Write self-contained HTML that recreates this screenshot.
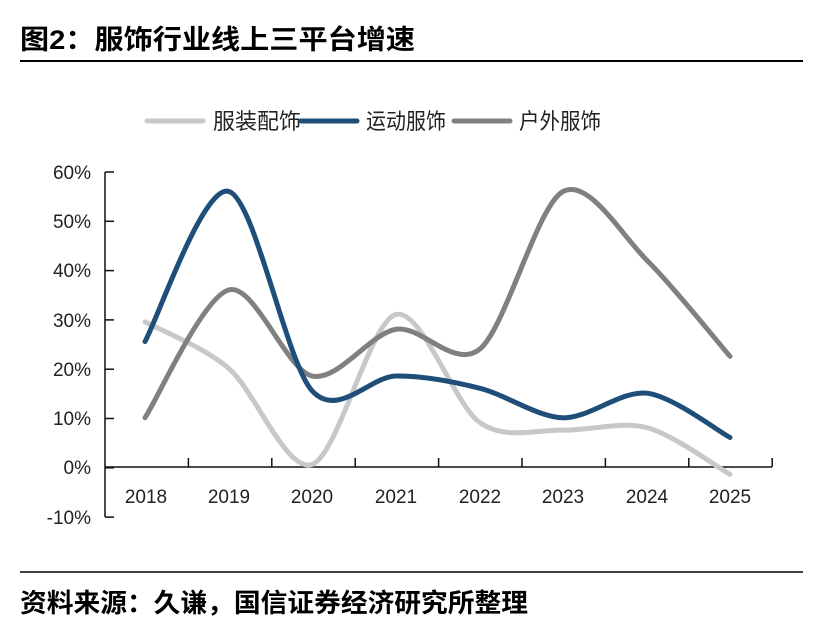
<!DOCTYPE html>
<html><head><meta charset="utf-8"><style>
body{margin:0;width:814px;height:632px;background:#fff;overflow:hidden;font-family:"Liberation Sans","Noto Sans CJK SC",sans-serif;}
</style></head><body>
<svg width="814" height="632" xmlns="http://www.w3.org/2000/svg" font-family="Liberation Sans, Noto Sans CJK SC, sans-serif">
<text x="20" y="49" font-size="27" font-weight="bold" fill="#000" textLength="395" lengthAdjust="spacingAndGlyphs">图2：服饰行业线上三平台增速</text>
<line x1="20" y1="61" x2="803" y2="61" stroke="#000" stroke-width="2"/>
<line x1="20" y1="572" x2="803" y2="572" stroke="#000" stroke-width="1.5"/>
<text x="20" y="612" font-size="26" font-weight="bold" fill="#000" textLength="508" lengthAdjust="spacingAndGlyphs">资料来源：久谦，国信证券经济研究所整理</text>
<g font-size="22" fill="#222">
<line x1="147" y1="121" x2="203" y2="121" stroke="#c8c8c8" stroke-width="5" stroke-linecap="round"/>
<text x="213" y="129" textLength="88" lengthAdjust="spacingAndGlyphs">服装配饰</text>
<line x1="301" y1="121" x2="357" y2="121" stroke="#1f4e79" stroke-width="5" stroke-linecap="round"/>
<text x="366" y="129" textLength="80" lengthAdjust="spacingAndGlyphs">运动服饰</text>
<line x1="454" y1="121" x2="510" y2="121" stroke="#808080" stroke-width="5" stroke-linecap="round"/>
<text x="519" y="129" textLength="82" lengthAdjust="spacingAndGlyphs">户外服饰</text>
</g>
<g font-size="19" fill="#222" text-anchor="end">
<text x="91" y="179">60%</text><text x="91" y="228">50%</text><text x="91" y="277">40%</text>
<text x="91" y="327">30%</text><text x="91" y="376">20%</text><text x="91" y="425">10%</text>
<text x="91" y="474">0%</text><text x="91" y="524">-10%</text>
</g>
<line x1="105" y1="172" x2="105" y2="517" stroke="#111" stroke-width="1.5"/>
<line x1="105" y1="467" x2="772" y2="467" stroke="#111" stroke-width="1.5"/>
<g id="ticks" stroke="#111" stroke-width="1.5"></g>
<g font-size="19" fill="#222" text-anchor="middle">
<text x="146" y="503">2018</text><text x="229" y="503">2019</text><text x="312" y="503">2020</text>
<text x="396" y="503">2021</text><text x="480" y="503">2022</text><text x="563" y="503">2023</text>
<text x="647" y="503">2024</text><text x="730" y="503">2025</text>
</g>
<path id="s1" fill="none" stroke="#c8c8c8" stroke-width="5" stroke-linecap="round"/>
<path id="s3" fill="none" stroke="#808080" stroke-width="5" stroke-linecap="round"/>
<path id="s2" fill="none" stroke="#1f4e79" stroke-width="5" stroke-linecap="round"/>
</svg>
<script>
var xs=[145,229,312,396,480,563,647,730];
function y(v){return 467-v*4.92;}
function path(d){
 var p=d.map(function(v,i){return [xs[i],y(v)];});
 var s="M"+p[0][0]+","+p[0][1];
 for(var i=0;i<p.length-1;i++){
  var p0=p[i-1]||p[i],p1=p[i],p2=p[i+1],p3=p[i+2]||p2;
  var t=6.5;
  s+=" C"+(p1[0]+(p2[0]-p0[0])/t)+","+(p1[1]+(p2[1]-p0[1])/t)+" "+(p2[0]-(p3[0]-p1[0])/t)+","+(p2[1]-(p3[1]-p1[1])/t)+" "+p2[0]+","+p2[1];
 }
 return s;
}
document.getElementById("s1").setAttribute("d",path([29.5,20,0.5,31,9,7.5,8,-1.5]));
document.getElementById("s2").setAttribute("d",path([25.5,56,15.5,18.5,16,10,15,6]));
document.getElementById("s3").setAttribute("d",path([10,36,18.5,28,24,56,42,22.5]));
var g=document.getElementById("ticks"),h="";
for(var i=1;i<9;i++){var x=105+i*83.4;h+='<line x1="'+x+'" y1="458" x2="'+x+'" y2="467"/>';}
for(var j=0;j<8;j++){var yy=172+j*49.3;h+='<line x1="105" y1="'+yy+'" x2="114" y2="'+yy+'"/>';}
g.innerHTML=h;
</script>
</body></html>
